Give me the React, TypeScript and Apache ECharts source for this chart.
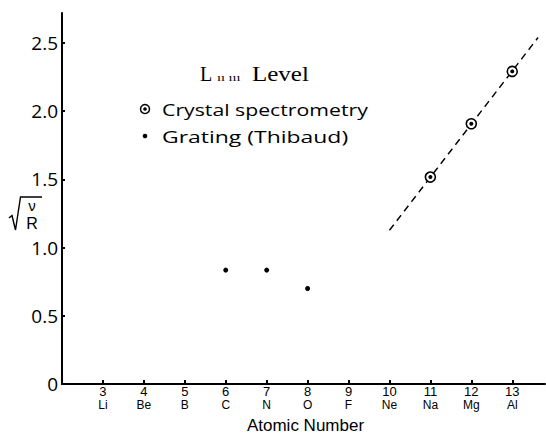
import React, { useEffect, useRef } from "react";
import * as echarts from "echarts";

const atomicNumbers = [3, 4, 5, 6, 7, 8, 9, 10, 11, 12, 13];
const elements = ["Li", "Be", "B", "C", "N", "O", "F", "Ne", "Na", "Mg", "Al"];
const yTicks = [0, 0.5, 1, 1.5, 2, 2.5];

const crystalZ = [11, 12, 13];
const crystalVal = [1.517, 1.908, 2.292];

const gratingZ = [6, 7, 8];
const gratingVal = [0.835, 0.835, 0.7];

const fitZ = [10, 13.63];
const fitVal = [1.127, 2.54];

const FONT = "Open Sans, DejaVu Sans, sans-serif";
const TICKFONT = "Liberation Sans, Arial, sans-serif";
const SERIF = "Liberation Serif, DejaVu Serif, serif";

export default function App() {
  const ref = useRef<HTMLDivElement>(null);
  useEffect(() => {
    if (!ref.current) return;
    const chart = echarts.init(ref.current, undefined, { renderer: "svg" });
    const crystal = crystalZ.map((z, i) => [z, crystalVal[i]]);
    const grating = gratingZ.map((z, i) => [z, gratingVal[i]]);
    const fit = fitZ.map((z, i) => [z, fitVal[i]]);
    chart.setOption({
      animation: false,
      backgroundColor: "#fff",
      grid: { left: 62, right: 1, top: 13, bottom: 52, outerBoundsMode: "none", containLabel: false },
      xAxis: [
        {
          type: "value",
          min: 2,
          max: 13.8,
          splitLine: { show: false },
          axisLine: { lineStyle: { color: "#000", width: 2 } },
          axisTick: {
            inside: true,
            length: 4,
            lineStyle: { color: "#000", width: 2 },
            customValues: atomicNumbers,
          },
          axisLabel: {
            customValues: atomicNumbers,
            margin: 1,
            color: "#000",
            fontSize: 13,
            lineHeight: 13,
            fontFamily: TICKFONT,
            formatter: (v: number) => String(v),
          },
          name: "Atomic Number",
          nameLocation: "middle",
          nameGap: 33,
          nameTextStyle: { fontSize: 17, lineHeight: 17, fontFamily: TICKFONT, color: "#000", padding: [0, 0, 0, 4] },
        },
        {
          type: "value",
          min: 2,
          max: 13.8,
          position: "bottom",
          splitLine: { show: false },
          axisLine: { show: false },
          axisTick: { show: false },
          axisLabel: {
            customValues: atomicNumbers,
            margin: 15,
            color: "#000",
            fontSize: 12,
            lineHeight: 12,
            fontFamily: TICKFONT,
            formatter: (v: number) => {
              const i = atomicNumbers.indexOf(Math.round(v));
              return i >= 0 ? elements[i] : "";
            },
          },
        },
      ],
      yAxis: {
        type: "value",
        min: 0,
        max: 2.72,
        splitLine: { show: false },
        axisLine: { lineStyle: { color: "#000", width: 2 } },
        axisTick: {
          inside: true,
          length: 3,
          lineStyle: { color: "#000", width: 2 },
          customValues: yTicks,
        },
        axisLabel: {
          customValues: yTicks,
          margin: 4,
          color: "#000",
          fontSize: 19,
          fontFamily: FONT,
          formatter: (v: number) => (v === 0 ? "0" : v.toFixed(1)),
        },
      },
      series: [
        {
          type: "line",
          data: fit,
          symbol: "none",
          lineStyle: { color: "#000", width: 1.4, type: [7, 5] },
          z: 1,
        },
        {
          type: "scatter",
          data: crystal,
          symbol: "circle",
          symbolSize: 10,
          itemStyle: { color: "#fff", borderColor: "#000", borderWidth: 1.6, opacity: 1 },
          z: 3,
        },
        {
          type: "scatter",
          data: crystal,
          symbol: "circle",
          symbolSize: 4,
          itemStyle: { color: "#000", opacity: 1 },
          z: 4,
        },
        {
          type: "scatter",
          data: grating,
          symbol: "circle",
          symbolSize: 5,
          itemStyle: { color: "#000", opacity: 1 },
          z: 3,
        },
      ],
      graphic: [
        {
          type: "text",
          x: 200,
          y: 74,
          style: { text: "L", fontSize: 20, fontFamily: SERIF, fill: "#000", verticalAlign: "middle" },
        },
        {
          type: "text",
          x: 217,
          y: 78,
          scaleX: 1.3,
          style: { text: "ıı ııı", fontSize: 11, fontFamily: SERIF, fill: "#000", verticalAlign: "middle" },
        },
        {
          type: "text",
          x: 252,
          y: 74,
          scaleX: 1.25,
          style: { text: "Level", fontSize: 20, fontFamily: SERIF, fill: "#000", verticalAlign: "middle" },
        },
        {
          type: "circle",
          shape: { cx: 145, cy: 109, r: 4.5 },
          style: { fill: "#fff", stroke: "#000", lineWidth: 1.5 },
        },
        {
          type: "circle",
          shape: { cx: 145, cy: 109, r: 1.8 },
          style: { fill: "#000" },
        },
        {
          type: "text",
          x: 162,
          y: 109,
          scaleX: 1.25,
          style: { text: "Crystal spectrometry", fontSize: 17, fontFamily: FONT, fill: "#000", verticalAlign: "middle" },
        },
        {
          type: "circle",
          shape: { cx: 145, cy: 136, r: 2.3 },
          style: { fill: "#000" },
        },
        {
          type: "text",
          x: 162,
          y: 136,
          scaleX: 1.35,
          style: { text: "Grating (Thibaud)", fontSize: 17, fontFamily: FONT, fill: "#000", verticalAlign: "middle" },
        },
        {
          type: "polyline",
          shape: { points: [[9, 218], [12, 215.5], [15.5, 230], [20.5, 197], [42, 197]] },
          style: { stroke: "#000", lineWidth: 1.4, fill: null },
        },
        {
          type: "text",
          x: 32,
          y: 205.5,
          style: { text: "ν", fontSize: 15, fontFamily: TICKFONT, fill: "#000", align: "center", verticalAlign: "middle" },
        },
        {
          type: "text",
          x: 32,
          y: 223.5,
          style: { text: "R", fontSize: 16, fontFamily: TICKFONT, fill: "#000", align: "center", verticalAlign: "middle" },
        },
      ],
    });
    return () => chart.dispose();
  }, []);
  return (
    <div
      ref={ref}
      style={{ position: "absolute", left: 0, top: 0, width: 546, height: 436 }}
    />
  );
}
